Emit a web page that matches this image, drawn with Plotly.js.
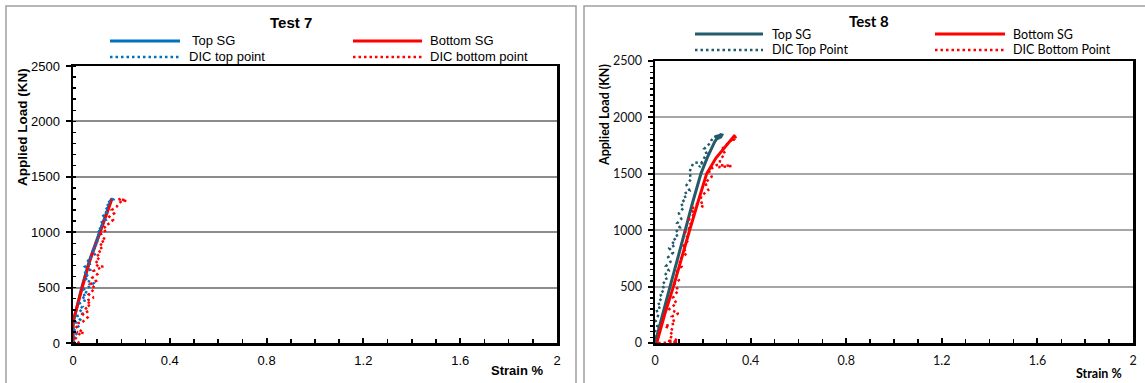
<!DOCTYPE html>
<html>
<head>
<meta charset="utf-8">
<script src="https://cdn.plot.ly/plotly-3.0.1.min.js"></script>
<style>
html,body{margin:0;padding:0;background:#fff;}
#chart{width:1145px;height:383px;}
</style>
</head>
<body>
<div id="chart"></div>
<script>
// ---------------- DATA ----------------
const xTickVals = [0, 0.4, 0.8, 1.2, 1.6, 2];
const yTickVals = [0, 500, 1000, 1500, 2000, 2500];

// Test 7
const t7TopSG_x = [0, 0, 0.036, 0.068, 0.11, 0.138, 0.158, 0.165];
const t7TopSG_y = [0, 180, 500, 745, 1000, 1170, 1295, 1300];
const t7BotSG_x = [0, 0, 0.038, 0.07, 0.112, 0.14, 0.16];
const t7BotSG_y = [0, 192, 500, 745, 1000, 1170, 1295];
const t7DicTop_x = [0, 0.012, 0.002, 0.018, 0.005, 0.022, 0.01, 0.03, 0.015, 0.045, 0.025, 0.04, 0.028, 0.055, 0.035, 0.06, 0.04, 0.07, 0.085, 0.05, 0.065, 0.045, 0.07, 0.05, 0.075, 0.058, 0.08, 0.095, 0.075, 0.1, 0.088, 0.11, 0.095, 0.115, 0.1, 0.125, 0.11, 0.135, 0.12, 0.14, 0.13, 0.15, 0.138, 0.158, 0.17, 0.165];
const t7DicTop_y = [0, 30, 60, 90, 120, 150, 180, 210, 240, 270, 300, 330, 360, 390, 420, 450, 480, 510, 540, 570, 600, 630, 660, 690, 720, 750, 780, 810, 840, 870, 900, 930, 960, 990, 1020, 1050, 1080, 1110, 1140, 1170, 1200, 1230, 1260, 1290, 1300, 1280];
const t7DicBot_x = [0, 0.025, 0.01, 0.03, 0.015, 0.045, 0.02, 0, 0.035, 0.045, 0.06, 0.04, 0.065, 0.05, 0.075, 0.055, 0.085, 0.065, 0.08, 0.09, 0.07, 0.095, 0.08, 0.1, 0.085, 0.125, 0.105, 0.09, 0.11, 0.095, 0.115, 0.105, 0.125, 0.11, 0.135, 0.12, 0.115, 0.14, 0.13, 0.15, 0.165, 0.15, 0.17, 0.16, 0.18, 0.19, 0.205, 0.222, 0.19, 0.2];
const t7DicBot_y = [0, 0, 40, 90, 100, 90, 130, 180, 180, 200, 230, 260, 290, 320, 350, 380, 410, 440, 470, 500, 530, 560, 590, 620, 650, 690, 690, 720, 750, 780, 810, 840, 870, 900, 930, 960, 990, 1020, 1050, 1080, 1110, 1140, 1170, 1200, 1230, 1260, 1290, 1280, 1306, 1270];

// Test 8
const t8TopSG_x = [0, 0.03, 0.063, 0.095, 0.125, 0.158, 0.192, 0.22, 0.25, 0.265, 0.275, 0.28, 0.275, 0.26, 0.255, 0.265];
const t8TopSG_y = [0, 250, 500, 750, 1000, 1250, 1500, 1650, 1785, 1830, 1848, 1845, 1825, 1812, 1825, 1840];
const t8BotSG_x = [0.007, 0.04, 0.077, 0.11, 0.145, 0.18, 0.216, 0.255, 0.293, 0.315, 0.335];
const t8BotSG_y = [0, 250, 500, 750, 1000, 1250, 1500, 1640, 1740, 1800, 1845];
const t8DicTop_x = [0, 0.006, 0, 0.01, 0.002, 0.015, 0.005, 0.025, 0.012, 0.03, 0.02, 0.04, 0.03, 0.05, 0.04, 0.058, 0.045, 0.065, 0.055, 0.075, 0.06, 0.085, 0.07, 0.095, 0.085, 0.105, 0.092, 0.11, 0.1, 0.12, 0.108, 0.13, 0.12, 0.145, 0.132, 0.15, 0.145, 0.16, 0.18, 0.2, 0.185, 0.2, 0.216, 0.205, 0.23, 0.237, 0.251, 0.272, 0.26];
const t8DicTop_y = [0, 50, 100, 150, 200, 250, 300, 320, 360, 400, 440, 470, 520, 560, 600, 640, 680, 720, 760, 800, 840, 870, 900, 940, 980, 1020, 1060, 1100, 1150, 1200, 1240, 1280, 1320, 1350, 1400, 1450, 1520, 1595, 1600, 1590, 1560, 1620, 1680, 1720, 1770, 1800, 1830, 1844, 1830];
const t8DicBot_x = [0.013, 0.096, 0.05, 0.098, 0.06, 0.077, 0.04, 0.084, 0.07, 0.098, 0.06, 0.09, 0.075, 0.098, 0.08, 0.1, 0.085, 0.112, 0.1, 0.133, 0.115, 0.14, 0.125, 0.153, 0.14, 0.167, 0.15, 0.175, 0.202, 0.19, 0.195, 0.223, 0.21, 0.237, 0.225, 0.258, 0.321, 0.27, 0.272, 0.293, 0.28, 0.314, 0.328, 0.342, 0.33, 0.335];
const t8DicBot_y = [0, 5, 20, 18, 60, 115, 150, 173, 233, 263, 300, 352, 400, 470, 520, 558, 620, 680, 735, 795, 850, 913, 980, 1040, 1090, 1150, 1180, 1230, 1208, 1270, 1306, 1356, 1420, 1474, 1530, 1578, 1570, 1560, 1622, 1682, 1720, 1785, 1815, 1830, 1800, 1770];

// Text
const titles = ["Test 7", "Test 8"];
const t7Names = ["Top SG", "Bottom SG", "DIC top point", "DIC bottom point"];
const t8Names = ["Top SG", "Bottom SG", "DIC Top Point", "DIC Bottom Point"];
const yTitle = "Applied Load (KN)";
const xTitle = "Strain %";

// ---------------- STYLE ----------------
const W = 1145, H = 383;
const px = v => v / W;
const py = v => 1 - v / H;
const BLUE = '#0070C0', RED = '#FF0000', TEAL = '#235B6B';
const F7 = '"Liberation Sans", Arial, sans-serif';
const F8 = 'Lato, "Open Sans", sans-serif';
const DOT = '2.5px,3px';

function tr(x, y, color, dotted, xa, ya, name) {
  return {
    type: 'scatter', mode: 'lines', x: x, y: y, name: name,
    xaxis: xa, yaxis: ya, showlegend: false, hoverinfo: 'skip',
    line: {color: color, width: dotted ? 2.5 : 3, dash: dotted ? DOT : 'solid'}
  };
}

const data = [
  tr(t7TopSG_x, t7TopSG_y, BLUE, false, 'x', 'y', t7Names[0]),
  tr(t7BotSG_x, t7BotSG_y, RED, false, 'x', 'y', t7Names[1]),
  tr(t7DicTop_x, t7DicTop_y, BLUE, true, 'x', 'y', t7Names[2]),
  tr(t7DicBot_x, t7DicBot_y, RED, true, 'x', 'y', t7Names[3]),
  tr(t8TopSG_x, t8TopSG_y, TEAL, false, 'x2', 'y2', t8Names[0]),
  tr(t8BotSG_x, t8BotSG_y, RED, false, 'x2', 'y2', t8Names[1]),
  tr(t8DicTop_x, t8DicTop_y, TEAL, true, 'x2', 'y2', t8Names[2]),
  tr(t8DicBot_x, t8DicBot_y, RED, true, 'x2', 'y2', t8Names[3])
];

function xax(dom, anchor, font, size, color) {
  return {
    domain: dom, anchor: anchor, range: [0, 2], tickvals: xTickVals,
    ticks: 'inside', ticklen: 5, tickwidth: 2, tickcolor: '#000',
    showline: true, linecolor: '#000', linewidth: 2.5, mirror: true,
    showgrid: false, zeroline: false, fixedrange: true,
    minor: {dtick: 0.1, tick0: 0, ticks: 'inside', ticklen: 4, tickwidth: 1.5, tickcolor: '#000', showgrid: false},
    tickfont: {family: font, size: size, color: color}, ticklabelstandoff: 4
  };
}
function yax(dom, anchor, font, size, color, grid, minorDt, minorTicks) {
  return {
    domain: dom, anchor: anchor, range: [0, 2500], tickvals: yTickVals,
    ticks: 'outside', ticklen: 5, tickwidth: 2, tickcolor: '#000',
    showline: true, linecolor: '#000', linewidth: 2.5, mirror: true,
    showgrid: true, gridcolor: grid, gridwidth: 2, zeroline: false, fixedrange: true,
    minor: {dtick: minorDt, tick0: 0, ticks: minorTicks, ticklen: 3, tickwidth: 1.5, tickcolor: '#000', showgrid: false},
    tickfont: {family: font, size: size, color: color}, ticklabelstandoff: 3
  };
}

const shapes = [];
const annotations = [];
// panel frames
shapes.push({type: 'rect', xref: 'paper', yref: 'paper', x0: px(6), x1: px(576), y0: py(392), y1: py(6), line: {color: '#a0a0a0', width: 1.5}});
shapes.push({type: 'rect', xref: 'paper', yref: 'paper', x0: px(584), x1: px(1152), y0: py(392), y1: py(6), line: {color: '#a0a0a0', width: 1.5}});

function legendRow(x0, x1, yPix, color, dotted, textX, text, font, size) {
  shapes.push({type: 'line', xref: 'paper', yref: 'paper', x0: px(x0), x1: px(x1), y0: py(yPix), y1: py(yPix),
    line: {color: color, width: dotted ? 2.5 : 3, dash: dotted ? DOT : 'solid'}});
  annotations.push({xref: 'paper', yref: 'paper', x: px(textX), y: py(yPix), xanchor: 'left', yanchor: 'middle',
    text: text, showarrow: false, font: {family: font, size: size, color: '#000'}});
}
// Test 7 legend
legendRow(110, 180, 41, BLUE, false, 190, t7Names[0], F7, 13);
legendRow(353, 422, 41, RED, false, 428, t7Names[1], F7, 13);
legendRow(110, 180, 57, BLUE, true, 187, t7Names[2], F7, 13);
legendRow(353, 422, 57, RED, true, 428, t7Names[3], F7, 13);
// Test 8 legend
legendRow(695, 763, 34, TEAL, false, 770, t8Names[0], F8, 12.5);
legendRow(935, 1005, 34, RED, false, 1011, t8Names[1], F8, 12.5);
legendRow(695, 763, 50, TEAL, true, 770, t8Names[2], F8, 12.5);
legendRow(935, 1005, 50, RED, true, 1011, t8Names[3], F8, 12.5);

function ann(x, y, text, font, size, angle) {
  annotations.push({xref: 'paper', yref: 'paper', x: px(x), y: py(y), xanchor: 'center', yanchor: 'middle',
    text: '<b>' + text + '</b>', showarrow: false, textangle: angle || 0, font: {family: font, size: size, color: '#000'}});
}
ann(291, 23, titles[0], F7, 15);
ann(869, 21, titles[1], F8, 15);
ann(22, 127, yTitle, F7, 13.5, -90);
ann(604, 115, yTitle, F8, 12.5, -90);
ann(517, 370, xTitle, F7, 13);
ann(1099, 373, xTitle, F8, 12.5);

const layout = {
  width: W, height: H, margin: {l: 0, r: 0, t: 0, b: 0},
  paper_bgcolor: '#fff', plot_bgcolor: '#fff', showlegend: false,
  xaxis: xax([px(73), px(557)], 'y', F7, 13, '#000'),
  yaxis: yax([py(343), py(66)], 'x', F7, 13, '#000', '#8c8c8c', 100, 'inside'),
  xaxis2: xax([px(655), px(1133)], 'y2', F8, 12.5, '#111'),
  yaxis2: yax([py(343), py(61)], 'x2', F8, 12.5, '#111', '#a6a6a6', 50, 'outside'),
  shapes: shapes, annotations: annotations
};

Plotly.newPlot('chart', data, layout, {staticPlot: true, displayModeBar: false});
</script>
</body>
</html>
